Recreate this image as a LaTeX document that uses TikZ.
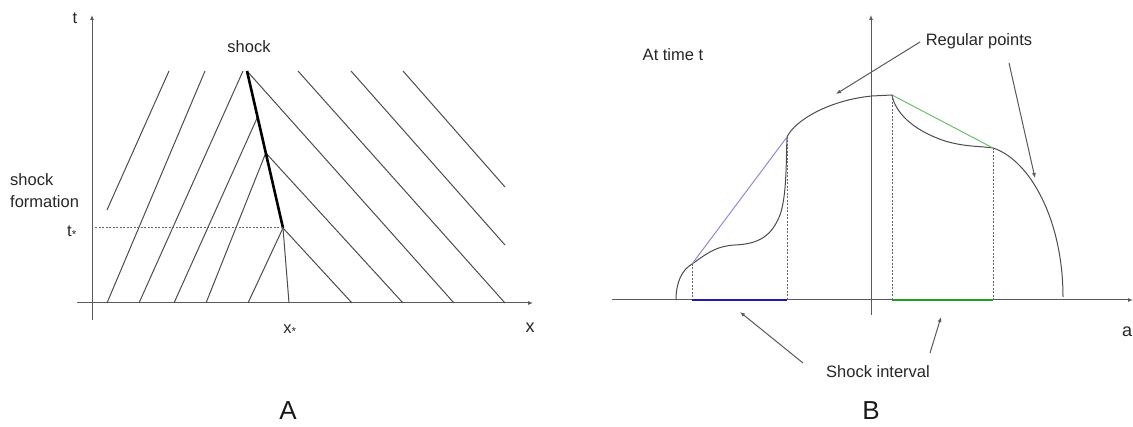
\documentclass[tikz,border=0pt]{standalone}
\usepackage{fontspec}
\setmainfont{Liberation Sans}
\usetikzlibrary{arrows.meta,calc}
\definecolor{chordblue}{HTML}{8C8CD8}
\definecolor{chordgreen}{HTML}{6DBE6D}
\definecolor{segblue}{HTML}{1C1CB0}
\definecolor{seggreen}{HTML}{1FA11F}
\begin{document}
\begin{tikzpicture}[x=1pt,y=-1pt,
  lbl/.style={font=\fontsize{16.5}{22}\selectfont, text=black!85, inner sep=0pt},
  biglbl/.style={font=\fontsize{26}{30}\selectfont, text=black!90, inner sep=0pt},
  axis/.style={draw=black!65, line width=1pt, -{Latex[length=5pt,width=4pt]}},
  char/.style={draw=black!70, line width=1pt},
  shockln/.style={draw=black, line width=2.6pt},
  dashln/.style={draw=black!60, line width=1pt, dash pattern=on 2pt off 1.5pt},
  ptr/.style={draw=black!65, line width=1pt, -{Latex[length=5pt,width=4pt]}},
  curveln/.style={draw=black!70, line width=1pt},
]
\useasboundingbox (0,0) rectangle (1133,427);

% ---------------- Panel A ----------------
\coordinate (tO) at (92,320);
\coordinate (tTop) at (92,15);
\coordinate (xL) at (77,303);
\coordinate (xR) at (533,303);
\draw[axis] (tO) -- (tTop);
\draw[axis] (xL) -- (xR);

\coordinate (S0) at (283,228);
\coordinate (S1) at (247,71);
\coordinate (Q1) at ($(S0)!0.707!(S1)$);
\coordinate (Q2) at ($(S0)!0.478!(S1)$);

% characteristics leaning right (left family)
\draw[char] (107,210) -- (169,71);
\draw[char] (107,303) -- (205,71);
\draw[char] (139,303) -- (243,71);
\draw[char] (174,303) -- (Q1);
\draw[char] (206,303) -- (Q2);
\draw[char] (248,303) -- (S0);
\draw[char] (289,303) -- (S0);
% characteristics leaning left (right family)
\draw[char] (S0) -- (352,303);
\draw[char] (Q2) -- (403,303);
\draw[char] (S1) -- (454,303);
\draw[char] (298,71) -- (505,303);
\draw[char] (351,71) -- (505,245);
\draw[char] (403,71) -- (505,187);
% shock
\draw[shockln] (S0) -- (S1);
% dashed t*
\coordinate (tsL) at (95,228);
\draw[dashln] (tsL) -- (S0);

\node[lbl] (tl) at (75,18) {t};
\node[lbl] (shockl) at (249,47) {shock};
\node[lbl, anchor=west, align=left] (sform) at (10,191) {shock\\formation};
\node[lbl] (tstar) at (72,232) {t\textsubscript{*}};
\node[lbl] (xstar) at (290,330) {x\textsubscript{*}};
\node[lbl, font=\fontsize{18}{22}\selectfont] (xl) at (530,328) {x};
\node[biglbl] (A) at (288,411) {A};

% ---------------- Panel B ----------------
\coordinate (aL) at (612,300);
\coordinate (aR) at (1133,300);
\coordinate (vB) at (871,315);
\coordinate (vT) at (871,15);
\draw[axis] (aL) -- (aR);
\draw[axis] (vB) -- (vT);

\coordinate (P0) at (676,300);
\coordinate (P1) at (692,264);
\coordinate (P2) at (787,137);
\coordinate (P3) at (892,95);
\coordinate (P4) at (993,148);
\coordinate (P5) at (1063,297);

\draw[curveln] (P0) .. controls (676,282) and (682,270) .. (P1)
  .. controls (705,255) and (715,246) .. (735,245)
  .. controls (760,244) and (772,235) .. (780,215)
  .. controls (787,195) and (786,160) .. (P2)
  .. controls (795,120) and (830,100) .. (872,96) -- (P3)
  .. controls (895,112) and (912,130) .. (945,141)
  .. controls (965,147) and (980,146) .. (P4)
  .. controls (1030,160) and (1063,220) .. (P5);

\draw[draw=chordblue, line width=1pt] (P1) -- (P2);
\draw[draw=chordgreen, line width=1pt] (P3) -- (P4);

\coordinate (d1) at (692,300);
\coordinate (d2) at (787,300);
\coordinate (d3) at (892,300);
\coordinate (d4) at (993,300);
\draw[dashln] (P1) -- (d1);
\draw[dashln] (P2) -- (d2);
\draw[dashln] (P3) -- (d3);
\draw[dashln] (P4) -- (d4);

\draw[draw=segblue, line width=2.8pt] (d1) -- (d2);
\draw[draw=seggreen, line width=2.8pt] (d3) -- (d4);

\node[lbl] (attime) at (673,55) {At time t};
\node[lbl] (regpts) at (979,41) {Regular points};
\node[lbl] (shint) at (878,372) {Shock interval};
\node[lbl, font=\fontsize{18}{22}\selectfont] (al) at (1127,332) {a};
\node[biglbl] (B) at (871,411) {B};

\coordinate (r1s) at (920,42);
\coordinate (r1e) at (836,94);
\coordinate (r2s) at (1009,63);
\coordinate (r2e) at (1035,178);
\draw[ptr] (r1s) -- (r1e);
\draw[ptr] (r2s) -- (r2e);

\coordinate (s1s) at (803,363);
\coordinate (s1e) at (740,312);
\coordinate (s2s) at (930,353);
\coordinate (s2e) at (941,317);
\draw[ptr] (s1s) -- (s1e);
\draw[ptr] (s2s) -- (s2e);
\end{tikzpicture}
\end{document}
